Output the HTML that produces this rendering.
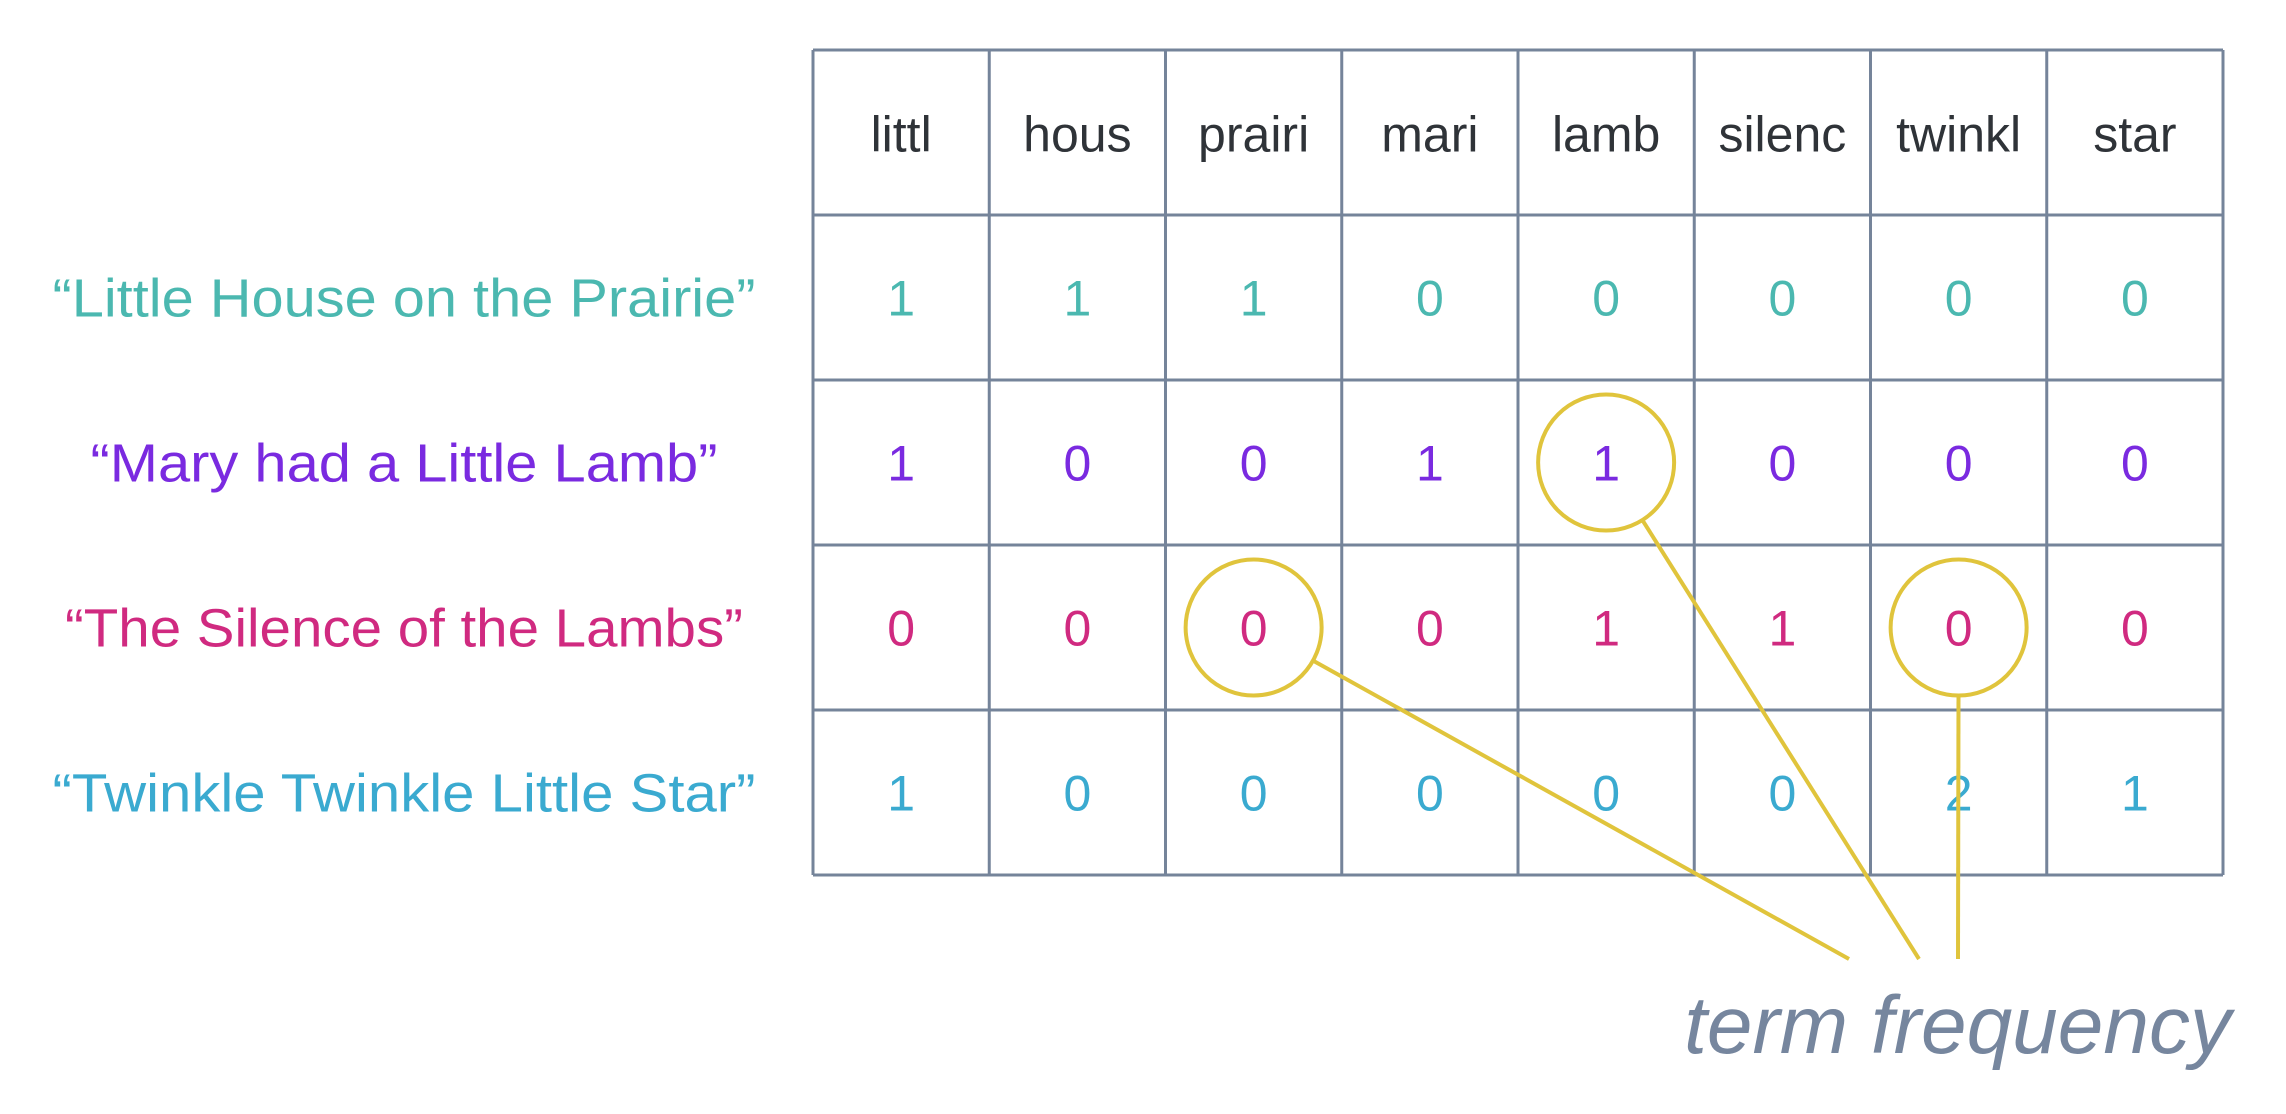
<!DOCTYPE html>
<html><head><meta charset="utf-8"><style>
html,body{margin:0;padding:0;background:#fff;}
svg{display:block;}
text{font-family:"Liberation Sans","DejaVu Sans",sans-serif;}
</style></head><body>
<svg id="chart" width="2286" height="1114" viewBox="0 0 2286 1114" xmlns="http://www.w3.org/2000/svg"></svg>
<script>
const terms = ["littl","hous","prairi","mari","lamb","silenc","twinkl","star"];
const docs = ["\u201cLittle House on the Prairie\u201d","\u201cMary had a Little Lamb\u201d","\u201cThe Silence of the Lambs\u201d","\u201cTwinkle Twinkle Little Star\u201d"];
const row0 = [1,1,1,0,0,0,0,0];
const row1 = [1,0,0,1,1,0,0,0];
const row2 = [0,0,0,0,1,1,0,0];
const row3 = [1,0,0,0,0,0,2,1];
const highlights = [[1,4],[2,2],[2,6]];

const rows=[row0,row1,row2,row3];
const colors=["#4bb8b0","#7a2ae0","#d02a80","#3aaad0"];
const labelWidths=[703,627,678,703];
const svg=document.getElementById('chart');
const NS="http://www.w3.org/2000/svg";
const X0=813, X1=2223, Y0=50, Y1=875;
const cw=(X1-X0)/terms.length, rh=(Y1-Y0)/(rows.length+1);
function cx(i){return X0+cw*(i+0.5);}
function cy(r){return Y0+rh*(r+1.5);}
function mk(tag,attrs,txt){const e=document.createElementNS(NS,tag);for(const k in attrs)e.setAttribute(k,attrs[k]);if(txt!==undefined)e.textContent=txt;svg.appendChild(e);return e;}
for(let i=0;i<=terms.length;i++){const l=mk('line',{x1:X0+cw*i,x2:X0+cw*i,y1:Y0,y2:Y1,stroke:'#75849a','stroke-width':3});

}
for(let r=0;r<=rows.length+1;r++){const l=mk('line',{x1:X0,x2:X1,y1:Y0+rh*r,y2:Y0+rh*r,stroke:'#75849a','stroke-width':3});

}
terms.forEach((t,i)=>{const e=mk('text',{x:cx(i),y:Y0+rh/2+19,'font-size':50,fill:'#2f3338','text-anchor':'middle'},t);

});
docs.forEach((d,r)=>{const e=mk('text',{x:404,y:cy(r)+19,'font-size':54,fill:colors[r],'text-anchor':'middle',textLength:labelWidths[r],lengthAdjust:'spacingAndGlyphs'},d);


rows[r].forEach((v,i)=>{const t=mk('text',{x:cx(i),y:cy(r)+18,'font-size':50,fill:colors[r],'text-anchor':'middle'},String(v));

});});
const gold='#e0c43c';
const ends=[[1919,959],[1849,959],[1958,959]];
highlights.forEach((h,k)=>{const x=cx(h[1]),y=cy(h[0]),R=68;
const c=mk('ellipse',{cx:x,cy:y,rx:R,ry:R,fill:'none',stroke:gold,'stroke-width':4});


const [ex,ey]=ends[k];const dx=ex-x,dy=ey-y,L=Math.hypot(dx,dy);
const l=mk('line',{x1:x+dx/L*R,y1:y+dy/L*R,x2:ex,y2:ey,stroke:gold,'stroke-width':4});

});
const tf=mk('text',{x:2231,y:1053,'font-size':82,'font-style':'italic',fill:'#76869e','text-anchor':'end'},'term frequency');


</script>
</body></html>
